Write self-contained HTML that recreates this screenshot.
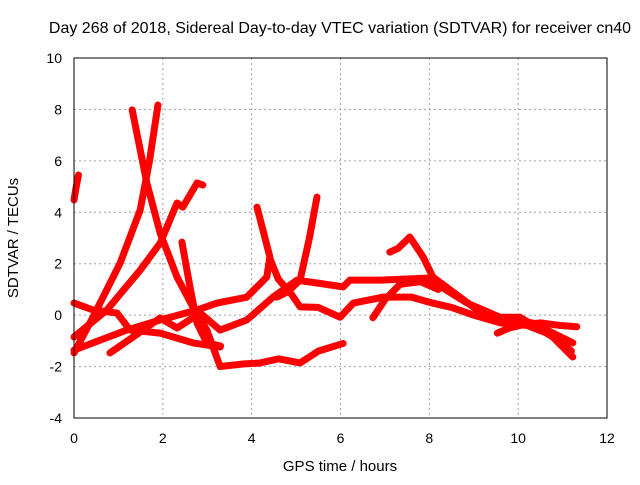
<!DOCTYPE html>
<html><head><meta charset="utf-8"><style>
body{margin:0;background:#fff}
svg text{font-family:"Liberation Sans",sans-serif;font-size:14px;fill:#000}
</style></head><body>
<svg id="chart" width="640" height="480" viewBox="0 0 640 480" xmlns="http://www.w3.org/2000/svg">
<rect width="640" height="480" fill="#fff"/>
<text x="340" y="33" text-anchor="middle" style="font-size:16px">Day 268 of 2018, Sidereal Day-to-day VTEC variation (SDTVAR) for receiver cn40</text>
<g id="grid"></g>
<g id="series"></g>
<rect x="74" y="58" width="533" height="360" fill="none" stroke="#000" stroke-width="1"/>
<g id="ticks"></g>
<text x="340" y="471" text-anchor="middle" style="font-size:15px">GPS time / hours</text>
<text transform="translate(18,238) rotate(-90)" text-anchor="middle" style="font-size:15px">SDTVAR / TECUs</text>
</svg>
<script>
const xTicks=[0,2,4,6,8,10,12];
const yTicks=[-4,-2,0,2,4,6,8,10];
const traceA=[[1.31,7.98],[1.64,5.14],[1.94,3.19],[2.32,1.48],[2.68,0.31],[2.99,-0.58],[3.29,-2.0],[3.8,-1.9],[4.19,-1.86],[4.6,-1.7],[5.09,-1.86],[5.5,-1.4],[6.06,-1.1]];
const traceB=[[0,-1.47],[0.43,-0.07],[1.04,2.03],[1.49,4.09],[1.7,6.0],[1.89,8.17]];
const traceC=[[0,-0.85],[0.74,0.2],[1.49,1.75],[1.94,2.8],[2.32,4.36],[2.45,4.2],[2.77,5.14],[2.9,5.06]];
const traceD=[[0,0.47],[0.43,0.2],[0.97,0.08],[1.26,-0.58],[1.94,-0.7],[2.68,-1.08],[3.29,-1.24]];
const traceE=[[0,-1.36],[0.59,-0.97],[1.19,-0.58],[1.94,-0.19],[2.77,0.2],[3.22,0.47],[3.89,0.7],[4.34,1.48],[4.41,2.26],[4.3,3.0],[4.12,4.2]];
const traceF=[[2.43,2.84],[2.6,1.2],[2.77,-0.31],[2.99,-1.08],[3.3,-1.2]];
const traceG=[[0.81,-1.47],[1.33,-0.85],[1.94,-0.11],[2.32,-0.5],[2.84,0.08],[3.29,-0.58],[3.89,-0.19],[4.48,0.7],[5.02,1.36],[5.47,1.25],[6.06,1.1],[6.21,1.36],[6.89,1.36],[7.95,1.44],[8.85,0.47],[9.59,-0.08],[10.33,-0.31],[11.23,-1.08]];
const traceH=[[4.41,2.2],[4.6,1.4],[4.9,0.8],[5.09,0.32],[5.5,0.3],[5.99,-0.08],[6.29,0.47],[6.96,0.7],[7.6,0.7],[8.0,0.5],[8.5,0.3],[9.0,0.0],[9.6,-0.3],[10.2,-0.4],[10.8,-0.8],[11.2,-1.4]];
const traceI=[[7.11,2.45],[7.3,2.6],[7.56,3.04],[7.86,2.26],[8.08,1.48],[8.69,0.7],[9.3,-0.08],[10.04,-0.08],[10.78,-0.85],[11.23,-1.63]];
const traceJ=[[5.47,4.59],[5.3,3.0],[5.09,1.36],[4.8,0.9],[4.57,0.7]];
const traceK=[[6.73,-0.1],[7.0,0.6],[7.34,1.2],[7.8,1.3],[8.2,1.0]];
const traceL=[[9.53,-0.7],[9.8,-0.5],[10.04,-0.4],[10.5,-0.3],[10.94,-0.4],[11.32,-0.45]];
const traceM=[[0,4.48],[0.05,5.0],[0.1,5.45]];
const traces=[traceA,traceB,traceC,traceD,traceE,traceF,traceG,traceH,traceI,traceJ,traceK,traceL,traceM];
const X=h=>74+h*533/12, Y=v=>58+(10-v)*360/14;
const NS='http://www.w3.org/2000/svg';
const grid=document.getElementById('grid'),ticks=document.getElementById('ticks'),ser=document.getElementById('series');
function mk(tag,at,p){const e=document.createElementNS(NS,tag);for(const k in at)e.setAttribute(k,at[k]);p.appendChild(e);return e;}
xTicks.forEach(t=>{const x=X(t);
 if(t>0&&t<12){const g=mk('line',{x1:x,x2:x,y1:58,y2:418,stroke:'#a0a0a0','stroke-dasharray':'2,3'},grid);
 
 }
 const l=mk('text',{x:x,y:443,'text-anchor':'middle'},ticks);l.textContent=t;
 
 });
yTicks.forEach(t=>{const y=Y(t);
 if(t>-4&&t<10){const g=mk('line',{x1:74,x2:607,y1:y,y2:y,stroke:'#a0a0a0','stroke-dasharray':'2,3'},grid);
 
 }
 const l=mk('text',{x:62,y:y+5,'text-anchor':'end'},ticks);l.textContent=t;
 
 });
traces.forEach((tr,i)=>{
 const p=mk('polyline',{points:tr.map(d=>X(d[0])+','+Y(d[1])).join(' '),fill:'none',stroke:'#ff0000','stroke-width':7,'stroke-linejoin':'round','stroke-linecap':'round'},ser);
 
 
});
</script>
</body></html>
